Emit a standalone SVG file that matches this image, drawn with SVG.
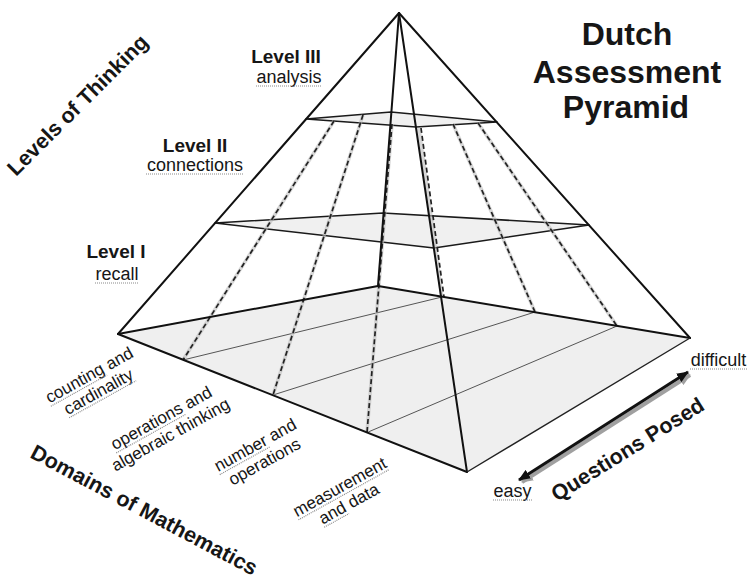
<svg xmlns="http://www.w3.org/2000/svg" width="749" height="580" viewBox="0 0 749 580">
  <style>
    text { font-family: "Liberation Sans", Arial, sans-serif; fill: #161616; }
    .title { font-size: 32px; font-weight: bold; text-anchor: middle; }
    .axis { font-size: 21.5px; font-weight: bold; }
    .lvl { font-size: 19px; font-weight: bold; text-anchor: middle; }
    .sub { font-size: 18px; text-anchor: middle; }
    .dom { font-size: 17px; }
    .edge { stroke: #111; stroke-width: 2; fill: none; stroke-linecap: round; stroke-linejoin: round; }
    .edge-thin { stroke: #222; stroke-width: 1.4; fill: none; stroke-linecap: round; }
    .plane { fill: #f0f0f0; stroke: #1a1a1a; stroke-width: 1.6; stroke-linejoin: round; }
    .base { fill: #efefef; stroke: none; }
    .grid { stroke: #555; stroke-width: 1; fill: none; }
    .dash { stroke: #222; stroke-width: 1.7; stroke-dasharray: 5 3; fill: none; }
    .dash-halo { stroke: #bdbdbd; stroke-width: 3.5; fill: none; opacity: 0.6; }
    .ul { stroke: #8a8a8a; stroke-width: 1.2; stroke-dasharray: 1 1; fill: none; }
  </style>
  <defs>
    <marker id="head" viewBox="0 0 12 10" refX="11" refY="5" markerWidth="12" markerHeight="10" markerUnits="userSpaceOnUse" orient="auto-start-reverse">
      <path d="M0,0 L12,5 L0,10 z" fill="#111"/>
    </marker>
    <marker id="headShadow" viewBox="0 0 12 10" refX="11" refY="5" markerWidth="12" markerHeight="10" markerUnits="userSpaceOnUse" orient="auto-start-reverse">
      <path d="M0,0 L12,5 L0,10 z" fill="#a0a0a0"/>
    </marker>
  </defs>

  <rect x="0" y="0" width="749" height="580" fill="#ffffff"/>

  <!-- Base (Level I) -->
  <g id="base">
    <polygon class="base" points="118,334 378,286 690,338 467,472"/>
  </g>

  <!-- Level planes -->
  <g id="plane-level2">
    <polygon class="plane" points="215,223 383,213 589,225 434,248"/>
  </g>
  <g id="plane-level3">
    <polygon class="plane" points="306,119 391,112 497,122 416,127"/>
  </g>

  <!-- Connectors: grid lines, dashed division lines, edges -->
  <g id="connectors">
    <g id="base-grid">
      <line class="grid" x1="183" y1="360" x2="442" y2="297"/>
      <line class="grid" x1="273" y1="395" x2="535" y2="312"/>
      <line class="grid" x1="367" y1="432.5" x2="617" y2="326"/>
    </g>
    <g id="dashed-divisions">
      <line class="dash-halo" x1="334" y1="121" x2="183" y2="360"/>
      <line class="dash-halo" x1="363" y1="115" x2="273" y2="395"/>
      <line class="dash-halo" x1="392" y1="124" x2="367" y2="432.5"/>
      <line class="dash-halo" x1="419" y1="128" x2="442" y2="297"/>
      <line class="dash-halo" x1="453" y1="124" x2="535" y2="312"/>
      <line class="dash-halo" x1="478" y1="123" x2="617" y2="326"/>
      <line class="dash" x1="334" y1="121" x2="183" y2="360"/>
      <line class="dash" x1="363" y1="115" x2="273" y2="395"/>
      <line class="dash" x1="392" y1="124" x2="367" y2="432.5"/>
      <line class="dash" x1="421" y1="128" x2="444" y2="297"/>
      <line class="dash" x1="453" y1="124" x2="535" y2="312"/>
      <line class="dash" x1="478" y1="123" x2="617" y2="326"/>
    </g>
    <g id="pyramid-edges">
      <line class="edge" x1="399" y1="13" x2="118" y2="334"/>
      <line class="edge" x1="399" y1="13" x2="690" y2="338"/>
      <line class="edge" x1="399" y1="13" x2="467" y2="472"/>
      <line class="edge" x1="399" y1="13" x2="378" y2="286"/>
      <line class="edge" x1="118" y1="334" x2="378" y2="286"/>
      <line class="edge" x1="378" y1="286" x2="690" y2="338"/>
      <line class="edge" x1="118" y1="334" x2="467" y2="472"/>
      <line class="edge-thin" x1="467" y1="472" x2="690" y2="338"/>
    </g>
    <g id="questions-arrow">
      <line x1="522" y1="482" x2="690" y2="375" stroke="#a0a0a0" stroke-width="4" marker-start="url(#headShadow)" marker-end="url(#headShadow)"/>
      <line x1="519" y1="480" x2="688" y2="372" stroke="#111" stroke-width="3" marker-start="url(#head)" marker-end="url(#head)"/>
    </g>
  </g>

  <!-- Title -->
  <g id="title">
    <text class="title" x="627" y="45">Dutch</text>
    <text class="title" x="627" y="83">Assessment</text>
    <text class="title" x="626" y="118">Pyramid</text>
  </g>

  <!-- Level labels -->
  <g id="label-level3">
    <text class="lvl" x="286" y="63">Level III</text>
    <text class="sub" x="289" y="83">analysis</text>
    <line class="ul" x1="256" y1="86" x2="322" y2="86"/>
  </g>
  <g id="label-level2">
    <text class="lvl" x="195" y="152">Level II</text>
    <text class="sub" x="195" y="171">connections</text>
    <line class="ul" x1="146" y1="174" x2="244" y2="174"/>
  </g>
  <g id="label-level1">
    <text class="lvl" x="116" y="258">Level I</text>
    <text class="sub" x="117" y="280">recall</text>
    <line class="ul" x1="95" y1="283" x2="139" y2="283"/>
  </g>

  <!-- Axis labels -->
  <g id="label-levels-of-thinking">
    <text class="axis" transform="translate(16,177) rotate(-45)">Levels of Thinking</text>
  </g>
  <g id="label-domains">
    <text class="axis" font-size="22.5" transform="translate(29,457) rotate(28)">Domains of Mathematics</text>
  </g>
  <g id="label-questions-posed">
    <text class="axis" font-size="22.5" transform="translate(557,502) rotate(-32)">Questions Posed</text>
  </g>

  <!-- Domain labels -->
  <g id="domain-counting" transform="translate(92,380) rotate(-29)">
    <text class="dom" x="-48.7" y="0">counting and</text>
    <text class="dom" x="-38.3" y="19">cardinality</text>
    <line class="ul" x1="-48.7" y1="3" x2="15.6" y2="3"/>
    <line class="ul" x1="-38.3" y1="22" x2="38.3" y2="22"/>
  </g>
  <g id="domain-operations" transform="translate(164,423) rotate(-29)">
    <text class="dom" x="-56.2" y="0">operations and</text>
    <text class="dom" x="-66.1" y="19">algebraic thinking</text>
    <line class="ul" x1="-56.2" y1="3" x2="23.2" y2="3"/>
  </g>
  <g id="domain-number" transform="translate(258,450) rotate(-29)">
    <text class="dom" x="-45.4" y="0">number and</text>
    <text class="dom" x="-39.7" y="19">operations</text>
    <line class="ul" x1="-45.4" y1="3" x2="12.2" y2="3"/>
  </g>
  <g id="domain-measurement" transform="translate(342.5,492) rotate(-29)">
    <text class="dom" x="-52" y="0">measurement</text>
    <text class="dom" x="-33.1" y="19">and data</text>
    <line class="ul" x1="-52" y1="3" x2="52" y2="3"/>
    <line class="ul" x1="-33.1" y1="22" x2="-4.7" y2="22"/>
  </g>

  <!-- Difficulty labels -->
  <g id="label-easy">
    <text class="sub" x="512.5" y="497" font-size="17">easy</text>
    <line class="ul" x1="493" y1="500" x2="532" y2="500"/>
  </g>
  <g id="label-difficult">
    <text class="sub" x="718.5" y="366">difficult</text>
    <line class="ul" x1="690" y1="369" x2="747" y2="369"/>
  </g>
</svg>
